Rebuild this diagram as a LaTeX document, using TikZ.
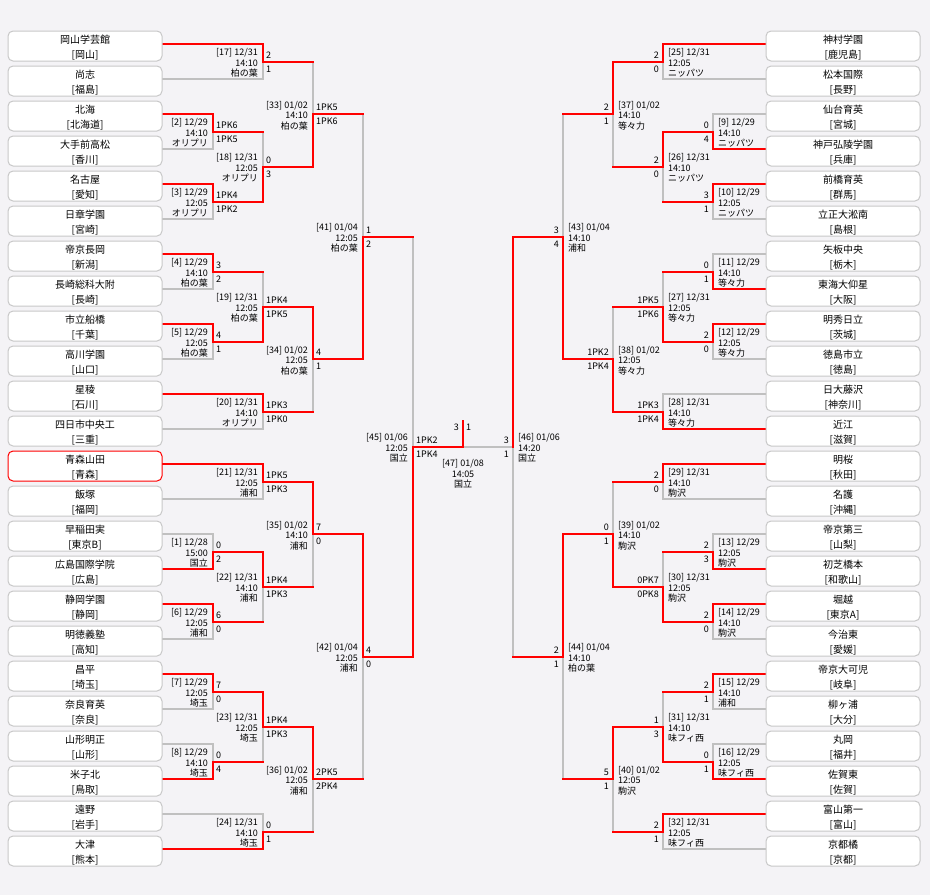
\documentclass[tikz,border=0pt]{standalone}
\usepackage{fontspec}
\newfontfamily\jp{Noto Sans CJK JP}
\definecolor{rr}{RGB}{255,0,0}
\definecolor{lg}{RGB}{192,192,192}
\definecolor{bgc}{RGB}{244,243,246}
\definecolor{bx}{RGB}{200,200,200}
\pgfdeclarelayer{bg}\pgfdeclarelayer{gr}\pgfdeclarelayer{rd}
\pgfsetlayers{bg,gr,rd,main}
\newcommand\GmL[9]{%
\begin{pgfonlayer}{gr}\draw[tl,lg] (#2,#3)--(#2,#4);\end{pgfonlayer}%
\begin{pgfonlayer}{rd}%
\if#6U\draw[tl,rr] (#2,#3)--(#2,#5);\else\draw[tl,rr] (#2,#5)--(#2,#4);\fi
\draw[tl,rr] (#2,#5) coordinate (m#1) -- (#7,#5);%
\end{pgfonlayer}%
\node[lb,anchor=base west] (s#1a) at (#2+3,#5-3.2) {#8};%
\node[lb,anchor=base west] (s#1b) at (#2+3,#5+10.8) {#9};}
\newcommand\GmR[9]{%
\begin{pgfonlayer}{gr}\draw[tl,lg] (#2,#3)--(#2,#4);\end{pgfonlayer}%
\begin{pgfonlayer}{rd}%
\if#6U\draw[tl,rr] (#2,#3)--(#2,#5);\else\draw[tl,rr] (#2,#5)--(#2,#4);\fi
\draw[tl,rr] (#2,#5) coordinate (m#1) -- (#7,#5);%
\end{pgfonlayer}%
\node[lb,anchor=base east] (s#1a) at (#2-4,#5-3.2) {#8};%
\node[lb,anchor=base east] (s#1b) at (#2-4,#5+10.8) {#9};}
\newcommand\InL[6]{%
\node[lb,anchor=base east] (i#1a) at (#2-5,#3-5.7) {[#1] #4};%
\node[lb,anchor=base east] (i#1b) at (#2-5,#3+4.5) {#5};%
\node[lb,anchor=base east] (i#1c) at (#2-5,#3+15.2) {#6};}
\newcommand\InR[6]{%
\node[lb,anchor=base west] (i#1a) at (#2+5,#3-5.7) {[#1] #4};%
\node[lb,anchor=base west] (i#1b) at (#2+5,#3+4.5) {#5};%
\node[lb,anchor=base west] (i#1c) at (#2+5,#3+15.2) {#6};}
\newcommand\Tm[6]{\node[#6] (#1) at (#2,{46+35*#3}) {};%
\node[tn] (#1a) at (#2,{43.8+35*#3}) {#4};%
\node[tn] (#1b) at (#2,{58.5+35*#3}) {#5};}
\begin{document}
\begin{tikzpicture}[x=1pt,y=-1pt,
  tl/.style={line width=2pt,line cap=rect},
  box/.style={draw=bx,fill=white,rounded corners=5pt,minimum width=154pt,minimum height=30pt,inner sep=0pt,line width=1pt},
  boxw/.style={box,draw=rr},
  tn/.style={anchor=base,inner sep=0pt,font=\jp\fontsize{10}{12}\selectfont},
  lb/.style={inner sep=0pt,font=\jp\fontsize{9}{10}\selectfont}]
\useasboundingbox (0,0) rectangle (930,895);
\begin{pgfonlayer}{bg}\fill[bgc] (0,0) rectangle (930,895);\end{pgfonlayer}
% left teams
\Tm{L0}{85}{0}{岡山学芸館}{[岡山]}{box}
\Tm{L1}{85}{1}{尚志}{[福島]}{box}
\Tm{L2}{85}{2}{北海}{[北海道]}{box}
\Tm{L3}{85}{3}{大手前高松}{[香川]}{box}
\Tm{L4}{85}{4}{名古屋}{[愛知]}{box}
\Tm{L5}{85}{5}{日章学園}{[宮崎]}{box}
\Tm{L6}{85}{6}{帝京長岡}{[新潟]}{box}
\Tm{L7}{85}{7}{長崎総科大附}{[長崎]}{box}
\Tm{L8}{85}{8}{市立船橋}{[千葉]}{box}
\Tm{L9}{85}{9}{高川学園}{[山口]}{box}
\Tm{L10}{85}{10}{星稜}{[石川]}{box}
\Tm{L11}{85}{11}{四日市中央工}{[三重]}{box}
\Tm{L12}{85}{12}{青森山田}{[青森]}{boxw}
\Tm{L13}{85}{13}{飯塚}{[福岡]}{box}
\Tm{L14}{85}{14}{早稲田実}{[東京B]}{box}
\Tm{L15}{85}{15}{広島国際学院}{[広島]}{box}
\Tm{L16}{85}{16}{静岡学園}{[静岡]}{box}
\Tm{L17}{85}{17}{明徳義塾}{[高知]}{box}
\Tm{L18}{85}{18}{昌平}{[埼玉]}{box}
\Tm{L19}{85}{19}{奈良育英}{[奈良]}{box}
\Tm{L20}{85}{20}{山形明正}{[山形]}{box}
\Tm{L21}{85}{21}{米子北}{[鳥取]}{box}
\Tm{L22}{85}{22}{遠野}{[岩手]}{box}
\Tm{L23}{85}{23}{大津}{[熊本]}{box}
% right teams
\Tm{R0}{843}{0}{神村学園}{[鹿児島]}{box}
\Tm{R1}{843}{1}{松本国際}{[長野]}{box}
\Tm{R2}{843}{2}{仙台育英}{[宮城]}{box}
\Tm{R3}{843}{3}{神戸弘陵学園}{[兵庫]}{box}
\Tm{R4}{843}{4}{前橋育英}{[群馬]}{box}
\Tm{R5}{843}{5}{立正大淞南}{[島根]}{box}
\Tm{R6}{843}{6}{矢板中央}{[栃木]}{box}
\Tm{R7}{843}{7}{東海大仰星}{[大阪]}{box}
\Tm{R8}{843}{8}{明秀日立}{[茨城]}{box}
\Tm{R9}{843}{9}{徳島市立}{[徳島]}{box}
\Tm{R10}{843}{10}{日大藤沢}{[神奈川]}{box}
\Tm{R11}{843}{11}{近江}{[滋賀]}{box}
\Tm{R12}{843}{12}{明桜}{[秋田]}{box}
\Tm{R13}{843}{13}{名護}{[沖縄]}{box}
\Tm{R14}{843}{14}{帝京第三}{[山梨]}{box}
\Tm{R15}{843}{15}{初芝橋本}{[和歌山]}{box}
\Tm{R16}{843}{16}{堀越}{[東京A]}{box}
\Tm{R17}{843}{17}{今治東}{[愛媛]}{box}
\Tm{R18}{843}{18}{帝京大可児}{[岐阜]}{box}
\Tm{R19}{843}{19}{柳ヶ浦}{[大分]}{box}
\Tm{R20}{843}{20}{丸岡}{[福井]}{box}
\Tm{R21}{843}{21}{佐賀東}{[佐賀]}{box}
\Tm{R22}{843}{22}{富山第一}{[富山]}{box}
\Tm{R23}{843}{23}{京都橘}{[京都]}{box}
% team lines
\begin{pgfonlayer}{rd}
\foreach \i/\xx/\cc in {0/263/rr,1/263/lg,2/213/rr,3/213/lg,4/213/rr,5/213/lg,6/213/rr,7/213/lg,8/213/rr,9/213/lg,10/263/rr,11/263/lg,12/263/rr,13/263/lg,14/213/lg,15/213/rr,16/213/rr,17/213/lg,18/213/rr,19/213/lg,20/213/lg,21/213/rr,22/263/lg,23/263/rr}
  \draw[tl,color=\cc] ([yshift=2pt]L\i.east) -- (\xx,{44+35*\i});
\foreach \i/\xx/\cc in {0/663/rr,1/663/lg,2/713/lg,3/713/rr,4/713/rr,5/713/lg,6/713/lg,7/713/rr,8/713/rr,9/713/lg,10/663/lg,11/663/rr,12/663/rr,13/663/lg,14/713/lg,15/713/rr,16/713/rr,17/713/lg,18/713/rr,19/713/lg,20/713/lg,21/713/rr,22/663/rr,23/663/lg}
  \draw[tl,color=\cc] ([yshift=2pt]R\i.west) -- (\xx,{44+35*\i});
\end{pgfonlayer}
% left matches
\GmL{17}{263}{44}{79}{61.5}{U}{313}{2}{1}
\GmL{2}{213}{114}{149}{131.5}{U}{263}{1PK6}{1PK5}
\GmL{3}{213}{184}{219}{201.5}{U}{263}{1PK4}{1PK2}
\GmL{18}{263}{131.5}{201.5}{166.5}{L}{313}{0}{3}
\GmL{33}{313}{61.5}{166.5}{114}{L}{363}{1PK5}{1PK6}
\GmL{4}{213}{254}{289}{271.5}{U}{263}{3}{2}
\GmL{5}{213}{324}{359}{341.5}{U}{263}{4}{1}
\GmL{19}{263}{271.5}{341.5}{306.5}{L}{313}{1PK4}{1PK5}
\GmL{20}{263}{394}{429}{411.5}{U}{313}{1PK3}{1PK0}
\GmL{34}{313}{306.5}{411.5}{359}{U}{363}{4}{1}
\GmL{41}{363}{114}{359}{236.5}{L}{413}{1}{2}
\GmL{21}{263}{464}{499}{481.5}{U}{313}{1PK5}{1PK3}
\GmL{1}{213}{534}{569}{551.5}{L}{263}{0}{2}
\GmL{6}{213}{604}{639}{621.5}{U}{263}{6}{0}
\GmL{22}{263}{551.5}{621.5}{586.5}{U}{313}{1PK4}{1PK3}
\GmL{35}{313}{481.5}{586.5}{534}{U}{363}{7}{0}
\GmL{7}{213}{674}{709}{691.5}{U}{263}{7}{0}
\GmL{8}{213}{744}{779}{761.5}{L}{263}{0}{4}
\GmL{23}{263}{691.5}{761.5}{726.5}{U}{313}{1PK4}{1PK3}
\GmL{24}{263}{814}{849}{831.5}{L}{313}{0}{1}
\GmL{36}{313}{726.5}{831.5}{779}{U}{363}{2PK5}{2PK4}
\GmL{42}{363}{534}{779}{656.5}{U}{413}{4}{0}
\GmL{45}{413}{236.5}{656.5}{446.5}{L}{413}{1PK2}{1PK4}
\InL{17}{263}{61.5}{12/31}{14:10}{柏の葉}
\InL{2}{213}{131.5}{12/29}{14:10}{オリプリ}
\InL{3}{213}{201.5}{12/29}{12:05}{オリプリ}
\InL{18}{263}{166.5}{12/31}{12:05}{オリプリ}
\InL{33}{313}{114}{01/02}{14:10}{柏の葉}
\InL{4}{213}{271.5}{12/29}{14:10}{柏の葉}
\InL{5}{213}{341.5}{12/29}{12:05}{柏の葉}
\InL{19}{263}{306.5}{12/31}{12:05}{柏の葉}
\InL{20}{263}{411.5}{12/31}{14:10}{オリプリ}
\InL{34}{313}{359}{01/02}{12:05}{柏の葉}
\InL{41}{363}{236.5}{01/04}{12:05}{柏の葉}
\InL{21}{263}{481.5}{12/31}{12:05}{浦和}
\InL{1}{213}{551.5}{12/28}{15:00}{国立}
\InL{6}{213}{621.5}{12/29}{12:05}{浦和}
\InL{22}{263}{586.5}{12/31}{14:10}{浦和}
\InL{35}{313}{534}{01/02}{14:10}{浦和}
\InL{7}{213}{691.5}{12/29}{12:05}{埼玉}
\InL{8}{213}{761.5}{12/29}{14:10}{埼玉}
\InL{23}{263}{726.5}{12/31}{12:05}{埼玉}
\InL{24}{263}{831.5}{12/31}{14:10}{埼玉}
\InL{36}{313}{779}{01/02}{12:05}{浦和}
\InL{42}{363}{656.5}{01/04}{12:05}{浦和}
\InL{45}{413}{446.5}{01/06}{12:05}{国立}
% right matches
\GmR{25}{663}{44}{79}{61.5}{U}{613}{2}{0}
\GmR{9}{713}{114}{149}{131.5}{L}{663}{0}{4}
\GmR{10}{713}{184}{219}{201.5}{U}{663}{3}{1}
\GmR{26}{663}{131.5}{201.5}{166.5}{U}{613}{2}{0}
\GmR{37}{613}{61.5}{166.5}{114}{U}{563}{2}{1}
\GmR{11}{713}{254}{289}{271.5}{L}{663}{0}{1}
\GmR{12}{713}{324}{359}{341.5}{U}{663}{2}{0}
\GmR{27}{663}{271.5}{341.5}{306.5}{L}{613}{1PK5}{1PK6}
\GmR{28}{663}{394}{429}{411.5}{L}{613}{1PK3}{1PK4}
\GmR{38}{613}{306.5}{411.5}{359}{L}{563}{1PK2}{1PK4}
\GmR{43}{563}{114}{359}{236.5}{L}{513}{3}{4}
\GmR{29}{663}{464}{499}{481.5}{U}{613}{2}{0}
\GmR{13}{713}{534}{569}{551.5}{L}{663}{2}{3}
\GmR{14}{713}{604}{639}{621.5}{U}{663}{2}{0}
\GmR{30}{663}{551.5}{621.5}{586.5}{L}{613}{0PK7}{0PK8}
\GmR{39}{613}{481.5}{586.5}{534}{L}{563}{0}{1}
\GmR{15}{713}{674}{709}{691.5}{U}{663}{2}{1}
\GmR{16}{713}{744}{779}{761.5}{L}{663}{0}{1}
\GmR{31}{663}{691.5}{761.5}{726.5}{L}{613}{1}{3}
\GmR{32}{663}{814}{849}{831.5}{U}{613}{2}{1}
\GmR{40}{613}{726.5}{831.5}{779}{U}{563}{5}{1}
\GmR{44}{563}{534}{779}{656.5}{U}{513}{2}{1}
\GmR{46}{513}{236.5}{656.5}{446.5}{U}{513}{3}{1}
\InR{25}{663}{61.5}{12/31}{12:05}{ニッパツ}
\InR{9}{713}{131.5}{12/29}{14:10}{ニッパツ}
\InR{10}{713}{201.5}{12/29}{12:05}{ニッパツ}
\InR{26}{663}{166.5}{12/31}{14:10}{ニッパツ}
\InR{37}{613}{114}{01/02}{14:10}{等々力}
\InR{11}{713}{271.5}{12/29}{14:10}{等々力}
\InR{12}{713}{341.5}{12/29}{12:05}{等々力}
\InR{27}{663}{306.5}{12/31}{12:05}{等々力}
\InR{28}{663}{411.5}{12/31}{14:10}{等々力}
\InR{38}{613}{359}{01/02}{12:05}{等々力}
\InR{43}{563}{236.5}{01/04}{14:10}{浦和}
\InR{29}{663}{481.5}{12/31}{14:10}{駒沢}
\InR{13}{713}{551.5}{12/29}{12:05}{駒沢}
\InR{14}{713}{621.5}{12/29}{14:10}{駒沢}
\InR{30}{663}{586.5}{12/31}{12:05}{駒沢}
\InR{39}{613}{534}{01/02}{14:10}{駒沢}
\InR{15}{713}{691.5}{12/29}{14:10}{浦和}
\InR{16}{713}{761.5}{12/29}{12:05}{味フィ西}
\InR{31}{663}{726.5}{12/31}{14:10}{味フィ西}
\InR{32}{663}{831.5}{12/31}{12:05}{味フィ西}
\InR{40}{613}{779}{01/02}{12:05}{駒沢}
\InR{44}{563}{656.5}{01/04}{14:10}{柏の葉}
\InR{46}{513}{446.5}{01/06}{14:20}{国立}
% final
\begin{pgfonlayer}{rd}\draw[tl,rr] (m45) -- (463,446.5) coordinate (fin) -- (463,421) coordinate (tick);\end{pgfonlayer}
\begin{pgfonlayer}{gr}\draw[tl,lg] (fin) -- (m46);\end{pgfonlayer}
\node[lb,anchor=base east] (f3) at (459,430) {3};
\node[lb,anchor=base west] (f1) at (466,430) {1};
\node[lb,anchor=base] (i47a) at (463,466.5) {[47] 01/08};
\node[lb,anchor=base] (i47b) at (463,477) {14:05};
\node[lb,anchor=base] (i47c) at (463,487.5) {国立};
\end{tikzpicture}
\end{document}
